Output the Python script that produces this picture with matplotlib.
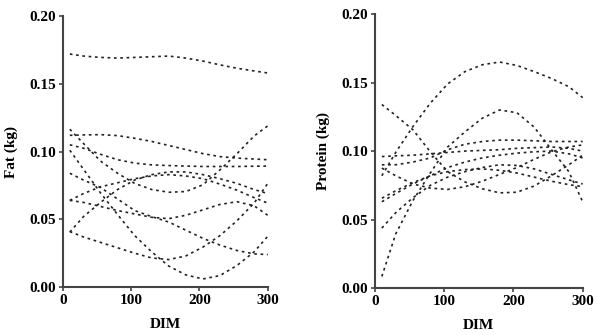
import matplotlib
matplotlib.use("Agg")
import matplotlib.pyplot as plt

# ---------- data ----------
dim = [10, 30, 55, 80, 105, 130, 155, 180, 205, 230, 255, 280, 300]

fat_curves = [
    [0.172, 0.1705, 0.1695, 0.169, 0.1695, 0.170, 0.1705, 0.169, 0.1668, 0.164, 0.1615, 0.1595, 0.158],
    [0.112, 0.1123, 0.1125, 0.1118, 0.1098, 0.1075, 0.1045, 0.1015, 0.0985, 0.0963, 0.0952, 0.0945, 0.094],
    [0.105, 0.1025, 0.098, 0.094, 0.0915, 0.0902, 0.0897, 0.0893, 0.089, 0.089, 0.089, 0.0892, 0.0893],
    [0.1165, 0.106, 0.093, 0.084, 0.0765, 0.072, 0.070, 0.0705, 0.0755, 0.0865, 0.0985, 0.1115, 0.119],
    [0.101, 0.087, 0.0695, 0.0535, 0.038, 0.026, 0.0155, 0.009, 0.006, 0.0085, 0.016, 0.026, 0.0375],
    [0.041, 0.037, 0.033, 0.029, 0.025, 0.0215, 0.0203, 0.023, 0.0295, 0.038, 0.049, 0.062, 0.0765],
    [0.064, 0.0625, 0.0595, 0.0565, 0.054, 0.0515, 0.0505, 0.053, 0.057, 0.061, 0.063, 0.060, 0.053],
    [0.0406, 0.052, 0.0625, 0.072, 0.079, 0.083, 0.085, 0.085, 0.083, 0.080, 0.0765, 0.072, 0.069],
    [0.064, 0.069, 0.074, 0.077, 0.080, 0.082, 0.083, 0.082, 0.080, 0.076, 0.0715, 0.066, 0.062],
    [0.084, 0.079, 0.0735, 0.065, 0.0565, 0.052, 0.048, 0.042, 0.036, 0.031, 0.027, 0.0245, 0.024],
]

protein_curves = [
    [0.082, 0.099, 0.118, 0.135, 0.149, 0.158, 0.163, 0.165, 0.1625, 0.158, 0.153, 0.147, 0.139],
    [0.0085, 0.0395, 0.064, 0.084, 0.103, 0.114, 0.124, 0.130, 0.128, 0.1175, 0.101, 0.085, 0.063],
    [0.134, 0.126, 0.1155, 0.0995, 0.085, 0.0775, 0.0725, 0.0695, 0.070, 0.0745, 0.082, 0.090, 0.097],
    [0.096, 0.0965, 0.097, 0.098, 0.099, 0.100, 0.1005, 0.101, 0.102, 0.1025, 0.103, 0.102, 0.100],
    [0.090, 0.090, 0.092, 0.095, 0.101, 0.105, 0.107, 0.108, 0.108, 0.1075, 0.107, 0.107, 0.107],
    [0.0876, 0.082, 0.076, 0.073, 0.072, 0.074, 0.078, 0.083, 0.088, 0.094, 0.0995, 0.103, 0.1045],
    [0.0656, 0.071, 0.077, 0.082, 0.085, 0.0865, 0.087, 0.086, 0.084, 0.081, 0.078, 0.0755, 0.074],
    [0.063, 0.069, 0.076, 0.082, 0.088, 0.092, 0.095, 0.097, 0.0985, 0.0995, 0.100, 0.098, 0.095],
    [0.0438, 0.055, 0.066, 0.075, 0.081, 0.085, 0.088, 0.090, 0.0895, 0.087, 0.083, 0.079, 0.076],
]

x_ticks = [0, 100, 200, 300]
y_ticks = [0.00, 0.05, 0.10, 0.15, 0.20]

# ---------- figure ----------
plt.rcParams['font.family'] = ['Liberation Serif', 'DejaVu Serif']
plt.rcParams['font.weight'] = 'bold'

fig = plt.figure(figsize=(5.97, 3.35), dpi=100)
ax1 = fig.add_axes([0.1055, 0.143, 0.343, 0.809])
ax2 = fig.add_axes([0.628, 0.140, 0.348, 0.818])

def style(ax, curves, ylabel):
    for c in curves:
        ax.plot(dim, c, color='#222222', lw=1.2, linestyle=(0, (1.6, 2.2)))
    ax.set_xlim(0, 300)
    ax.set_ylim(0, 0.20)
    ax.set_xticks(x_ticks)
    ax.set_yticks(y_ticks)
    ax.set_yticklabels(["%.2f" % v for v in y_ticks])
    for s in ['top', 'right']:
        ax.spines[s].set_visible(False)
    for s in ['left', 'bottom']:
        ax.spines[s].set_color('#444444')
        ax.spines[s].set_linewidth(1.5)
    ax.tick_params(direction='out', length=3, width=1.2, color='#444444',
                   labelsize=11, pad=2)
    for lab in ax.get_xticklabels() + ax.get_yticklabels():
        lab.set_fontweight('bold')
    ax.set_xlabel("DIM", fontsize=11, fontweight='bold', labelpad=8)
    ax.set_ylabel(ylabel, fontsize=11, fontweight='bold', labelpad=8)

style(ax1, fat_curves, "Fat (kg)")
style(ax2, protein_curves, "Protein (kg)")

fig.savefig("out.png", dpi=100)
